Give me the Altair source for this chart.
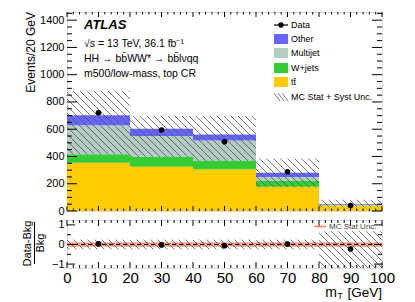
import math
import altair as alt
import pandas as pd

FONT = "Liberation Sans"

# ---------------- data ----------------
bin_lo = [0, 20, 40, 60, 80]
bin_hi = [20, 40, 60, 80, 100]
bin_c = [10, 30, 50, 70, 90]
procs = ["tt\u0304", "W+jets", "Multijet", "Other"]
proc_colors = ["#FFCC00", "#33CC33", "#B1CDC5", "#6666FF"]
ttbar = [354, 325, 306, 178, 40]
wjets = [62, 71, 61, 42, 3]
multijet = [214, 154, 151, 29, 2]
other = [72, 53, 44, 32, 7]
data_vals = [721, 594, 508, 288, 40]
unc_lo = [415, 396, 367, 175, 28]
unc_hi = [880, 697, 697, 386, 83]
ratio_vals = [0.03, -0.02, -0.06, 0.02, -0.23]
ratio_unc_lo = [-0.25, -0.25, -0.25, -0.25, -1.2]
ratio_unc_hi = [0.25, 0.25, 0.25, 0.25, 0.68]
mcstat = [0.07, 0.07, 0.07, 0.07, 0.07]

x_major = list(range(0, 101, 10))
x_minor = [v for v in range(0, 101, 2) if v % 10]
y_major = list(range(0, 1401, 200))
y_minor = [v for v in range(0, 1461, 50) if v % 200]
r_major = [-1, 0, 1]
r_minor = [-0.5, 0.5]

W, H, RH = 315, 199, 48
YMAX = 1460
RMIN, RMAX = -1.2, 1.25

xs = alt.Scale(domain=[0, 100], nice=False, zero=False)
ys = alt.Scale(domain=[0, YMAX], nice=False)
rs = alt.Scale(domain=[RMIN, RMAX], nice=False, zero=False)

main_yaxis = alt.Axis(values=y_major, format="d", tickSize=0, domain=False, grid=False,
                      labelFontSize=11, labelPadding=3, title=None, minExtent=58, maxExtent=58,
                      labelFont=FONT, labelColor="black")
rat_yaxis = alt.Axis(values=r_major, format="d", tickSize=0, domain=False, grid=False,
                     labelFontSize=11, labelPadding=3, title=None, minExtent=58, maxExtent=58,
                     labelFont=FONT, labelColor="black")
rat_xaxis = alt.Axis(values=x_major, format="d", tickSize=0, domain=False, grid=False,
                     labelFontSize=15, labelPadding=2, labelFlush=False, labelOverlap=False,
                     title=None, labelFont=FONT, labelColor="black")


def MX(f):
    return alt.X(f, scale=xs, axis=None)


def MY(f):
    return alt.Y(f, scale=ys, axis=main_yaxis)


def RX(f):
    return alt.X(f, scale=xs, axis=rat_xaxis)


def RY(f):
    return alt.Y(f, scale=rs, axis=rat_yaxis)


def hatch(los, his, sx, sy, y0, step=7.0):
    rows = []
    for a, b, lo, hi in zip(bin_lo, bin_hi, los, his):
        X0, X1 = a * sx, b * sx
        Y0, Y1 = (lo - y0) * sy, (hi - y0) * sy
        k0 = math.ceil((X0 + Y0) / step)
        k1 = math.floor((X1 + Y1) / step)
        for k in range(k0, k1 + 1):
            c = k * step
            pa = max(X0, c - Y1)
            pb = min(X1, c - Y0)
            if pb - pa < 0.5:
                continue
            rows.append(dict(x=pa / sx, y=(c - pa) / sy + y0,
                             x2=pb / sx, y2=(c - pb) / sy + y0))
    return pd.DataFrame(rows)


def label(txt, x, y, size=10, align="left", baseline="middle", angle=0,
          weight="normal", style="normal", color="black"):
    return alt.Chart(pd.DataFrame({"t": [txt]})).mark_text(
        align=align, baseline=baseline, fontSize=size, angle=angle,
        fontWeight=weight, fontStyle=style, color=color, font=FONT
    ).encode(x=alt.value(x), y=alt.value(y), text="t:N")


def vrule(x1, x2, y1, y2, color="black", width=1.0, dash=None):
    kw = dict(color=color, strokeWidth=width)
    if dash:
        kw["strokeDash"] = dash
    return alt.Chart(pd.DataFrame({"a": [0]})).mark_rule(**kw).encode(
        x=alt.value(x1), x2=alt.value(x2), y=alt.value(y1), y2=alt.value(y2))


def ticks(xfun, yfun, xmaj, xmin, ymaj, ymin, h, w, xl, yl):
    out = []
    for vals, L in ((xmaj, xl[0]), (xmin, xl[1])):
        df = pd.DataFrame({"v": vals})
        out.append(alt.Chart(df).mark_rule(color="black", strokeWidth=1).encode(
            x=xfun("v:Q"), y=alt.value(h), y2=alt.value(h - L)))
        out.append(alt.Chart(df).mark_rule(color="black", strokeWidth=1).encode(
            x=xfun("v:Q"), y=alt.value(0), y2=alt.value(L)))
    for vals, L in ((ymaj, yl[0]), (ymin, yl[1])):
        df = pd.DataFrame({"v": vals})
        out.append(alt.Chart(df).mark_rule(color="black", strokeWidth=1).encode(
            y=yfun("v:Q"), x=alt.value(0), x2=alt.value(L)))
        out.append(alt.Chart(df).mark_rule(color="black", strokeWidth=1).encode(
            y=yfun("v:Q"), x=alt.value(w), x2=alt.value(w - L)))
    return out


# ---------------- main panel ----------------
rows = []
for i in range(5):
    cum = 0
    for p, vals in zip(procs, [ttbar, wjets, multijet, other]):
        rows.append(dict(x0=bin_lo[i], x1=bin_hi[i], proc=p, lo=cum, hi=cum + vals[i]))
        cum += vals[i]
stack_df = pd.DataFrame(rows)

stack = alt.Chart(stack_df).mark_rect(strokeWidth=0).encode(
    x=MX("x0:Q"), x2="x1:Q", y=MY("lo:Q"), y2="hi:Q",
    color=alt.Color("proc:N", scale=alt.Scale(domain=procs, range=proc_colors), legend=None))

hm = hatch(unc_lo, unc_hi, W / 100.0, H / YMAX, 0.0)
hatch_main = alt.Chart(hm).mark_rule(color="#555555", strokeWidth=0.8).encode(
    x=MX("x:Q"), y=MY("y:Q"), x2="x2:Q", y2="y2:Q")

pts = alt.Chart(pd.DataFrame({"x": bin_c, "y": data_vals})).mark_circle(
    color="black", size=32, opacity=1).encode(x=MX("x:Q"), y=MY("y:Q"))

main_ticks = ticks(MX, MY, x_major, x_minor, y_major, y_minor, H, W, (5, 2.5), (10, 5))

ann = [
    label("Events/20 GeV", -36, 0, size=12, align="right", angle=270),
    label("ATLAS", 17, 13, size=13, weight="bold", style="italic"),
    label("\u221as = 13 TeV, 36.1 fb\u207b\u00b9", 17, 32, size=10.5),
    label("HH \u2192 bb\u0304WW* \u2192 bb\u0304l\u03bdqq", 17, 46.5, size=10.5),
    label("m500/low-mass, top CR", 17, 61.5, size=10.5),
]

leg_rows = [("Data", 13), ("Other", 27), ("Multijet", 41), ("W+jets", 56), ("tt\u0304", 70),
            ("MC Stat + Syst Unc.", 85)]
legend = []
for txt, yc in leg_rows:
    legend.append(label(txt, 224, yc, size=9))
legend.append(vrule(207, 221, 13, 13, width=1.2))
legend.append(alt.Chart(pd.DataFrame({"a": [0]})).mark_circle(color="black", size=28, opacity=1)
              .encode(x=alt.value(214), y=alt.value(13)))
for col, yc in zip(["#6666FF", "#B1CDC5", "#33CC33", "#FFCC00"], [27, 41, 56, 70]):
    legend.append(alt.Chart(pd.DataFrame({"a": [0]})).mark_rect(color=col).encode(
        x=alt.value(207), x2=alt.value(221), y=alt.value(yc - 5), y2=alt.value(yc + 5)))
for dx in (207, 211, 215):
    legend.append(vrule(dx, dx + 6, 81, 89, color="#555555", width=0.8))

main = alt.layer(stack, hatch_main, pts, *main_ticks, *ann, *legend).properties(width=W, height=H)

# ---------------- ratio panel ----------------
band_df = pd.DataFrame({"x0": bin_lo, "x1": bin_hi,
                        "lo": [-m for m in mcstat], "hi": mcstat})
band = alt.Chart(band_df).mark_rect(color="#FDD3C3").encode(
    x=RX("x0:Q"), x2="x1:Q", y=RY("lo:Q"), y2="hi:Q")
band_hi = alt.Chart(band_df).mark_rule(color="#FF7F50", strokeWidth=1.3).encode(
    x=RX("x0:Q"), x2="x1:Q", y=RY("hi:Q"))
band_lo = alt.Chart(band_df).mark_rule(color="#FF7F50", strokeWidth=1.3).encode(
    x=RX("x0:Q"), x2="x1:Q", y=RY("lo:Q"))

hr = hatch(ratio_unc_lo, ratio_unc_hi, W / 100.0, RH / (RMAX - RMIN), RMIN)
hatch_rat = alt.Chart(hr).mark_rule(color="#555555", strokeWidth=0.8).encode(
    x=RX("x:Q"), y=RY("y:Q"), x2="x2:Q", y2="y2:Q")

zero = alt.Chart(pd.DataFrame({"y": [0]})).mark_rule(
    color="black", strokeWidth=1, strokeDash=[4, 3]).encode(
    y=RY("y:Q"), x=alt.value(0), x2=alt.value(W))

rpts = alt.Chart(pd.DataFrame({"x": bin_c, "y": ratio_vals})).mark_circle(
    color="black", size=32, opacity=1).encode(x=RX("x:Q"), y=RY("y:Q"))

rat_ticks = ticks(RX, RY, x_major, x_minor, r_major, r_minor, RH, W, (6, 3), (8, 4))

rat_ann = [
    vrule(247, 259, 6.5, 6.5, color="#FF7F50", width=1.5),
    label("MC Stat Unc.", 262, 6.5, size=8, color="#444444"),
    label("Data-Bkg", -39, 23.5, size=11, align="center", angle=270),
    label("Bkg", -26, 23, size=11, align="center", angle=270),
    vrule(-32.5, -32.5, 2, 44, width=1),
    label("[GeV]", W, 76.5, size=13.5, align="right", baseline="alphabetic"),
    label("m", 270, 76.5, size=14, align="right", baseline="alphabetic"),
    label("T", 270.5, 79, size=8.5, align="left", baseline="alphabetic"),
]

ratio = alt.layer(band, band_hi, band_lo, hatch_rat, zero, rpts, *rat_ticks, *rat_ann).properties(
    width=W, height=RH)

chart = alt.vconcat(main, ratio, spacing=1).properties(
    padding={"left": 0, "top": 3, "right": 5, "bottom": 0}
).configure_view(stroke="black", strokeWidth=1).configure(font=FONT)

chart.save("out.html", embed_options={"renderer": "svg", "actions": False})
